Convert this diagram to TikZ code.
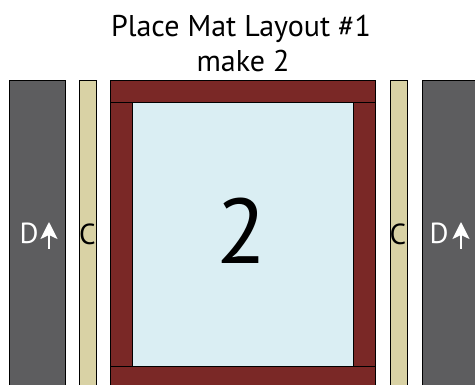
\documentclass[tikz,border=0pt]{standalone}
\usepackage{fontspec}
\setmainfont{PT Sans}
\usetikzlibrary{positioning,arrows.meta}
\definecolor{slate}{HTML}{5D5D5F}
\definecolor{straw}{HTML}{D9D2A5}
\definecolor{maroon}{HTML}{7A2826}
\definecolor{ice}{HTML}{DAEEF3}
\tikzset{
  board/.style={draw=black, fill=slate, line width=0.9pt},
  strip/.style={draw=black, fill=straw, line width=0.9pt},
  frame/.style={draw=black, fill=maroon, line width=0.9pt},
  centre/.style={draw=black, fill=ice, line width=0.9pt},
  piece/.style={anchor=base, inner sep=0pt, font=\fontsize{29}{29}\selectfont},
  grain/.style={draw=white, line width=2pt, -{Stealth[width=17pt,length=17pt,inset=4pt]}}
}

\begin{document}
\begin{tikzpicture}[x=1pt,y=-1pt]
    \useasboundingbox (0,0) rectangle (475,385);
    \clip (0,0) rectangle (475,385);

    % title
    \node[anchor=base, inner sep=0pt, font=\fontsize{30}{35}\selectfont] (title) at (241,37) {Place Mat Layout \#1};
    \node[anchor=base, inner sep=0pt, font=\fontsize{30}{35}\selectfont] (count) at (243,72) {make 2};

    % side pieces
    \draw[board] (9,80) rectangle (65,395);
    \draw[strip] (79,80) rectangle (96,395);
    \draw[strip] (390,80) rectangle (407,395);
    \draw[board] (422,80) rectangle (480,395);

    % frame and centre
    \draw[centre] (132,102) rectangle (353,366);
    \draw[frame] (110,80) rectangle (375,102);
    \draw[frame] (110,102) rectangle (132,366);
    \draw[frame] (353,102) rectangle (375,366);
    \draw[frame] (110,366) rectangle (375,395);

    \node[anchor=base, inner sep=0pt, font=\fontsize{92}{92}\selectfont] (num) at (242,264) {2};

    % labels
    \node[piece, text=white] (dl) at (29,244) {D};
    \node[piece] (cl) at (87.5,245) {C};
    \node[piece] (cr) at (398,245) {C};
    \node[piece, text=white] (dr) at (439,244) {D};

    \coordinate (dla) at (49,249);
    \coordinate (dlb) at (49,222);
    \coordinate (dra) at (461,249);
    \coordinate (drb) at (461,222);
    \draw[grain] (dla) -- (dlb);
    \draw[grain] (dra) -- (drb);
\end{tikzpicture}
\end{document}
